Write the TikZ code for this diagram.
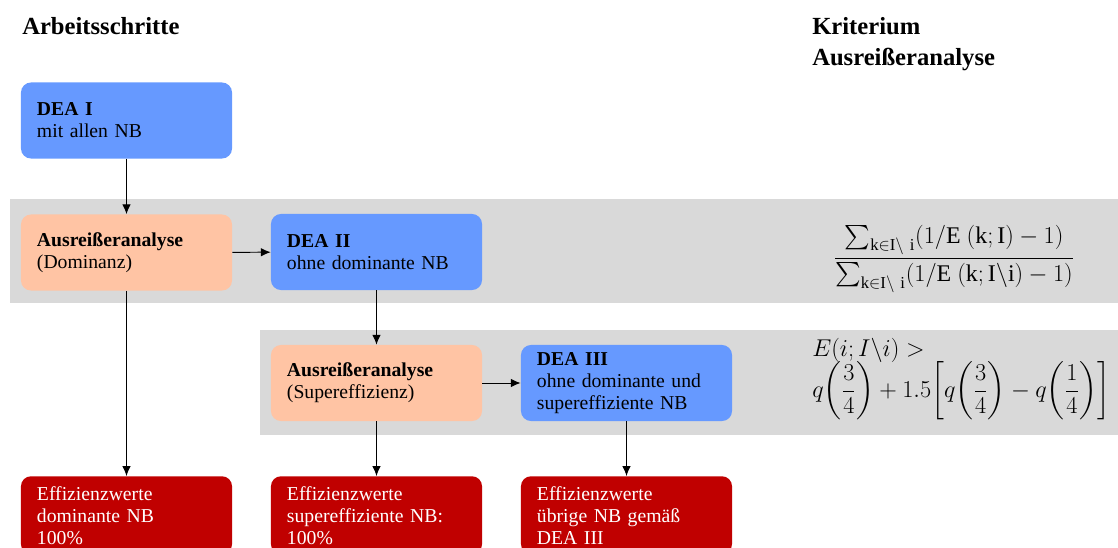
\documentclass[tikz,border=0pt]{standalone}
\usepackage{amsmath}
\usepackage{fontspec}
\setmainfont{Liberation Serif}
\usetikzlibrary{arrows.meta}
\usetikzlibrary{positioning}

\definecolor{deablue}{HTML}{6699FF}
\definecolor{outlpeach}{HTML}{FFC4A4}
\definecolor{effred}{HTML}{C00000}
\definecolor{bandgray}{HTML}{D9D9D9}

\tikzset{
  stepbox/.style={rounded corners=0.25cm, minimum width=5.275cm, minimum height=1.9cm,
    text width=4.475cm, inner xsep=0.4cm, align=left,
    font=\fontsize{14}{15.6}\selectfont},
  deabox/.style={stepbox, fill=deablue},
  outlbox/.style={stepbox, fill=outlpeach},
  effbox/.style={stepbox, fill=effred, text=white, anchor=north, minimum height=0pt, inner ysep=0.25cm},
  heading/.style={font=\fontsize{17.5}{22}\selectfont\bfseries, anchor=base west, inner sep=0},
  crit/.style={font=\fontsize{17}{20}\selectfont, inner sep=0},
  flow/.style={black, line width=0.7pt, -{Latex[length=7pt,width=6pt]}}
}

\begin{document}
\begin{tikzpicture}[x=0.025cm, y=-0.025cm]
\clip (0,0) rectangle (1118,547);
% grey bands
\fill[bandgray] (10,199) rectangle (1118,303);
\fill[bandgray] (260,330) rectangle (1118,435);

\node[heading] (hsteps) at (22,34) {Arbeitsschritte};
\node[heading] (hcrit) at (812,34) {Kriterium};
\node[heading] (hcrit2) at (812,65) {Ausreißeranalyse};

\node[deabox] (dea1) at (126.5,120.5) {\textbf{DEA I}\\mit allen NB};
\node[outlbox] (outl1) at (126.5,252.5) {\textbf{Ausreißeranalyse}\\(Dominanz)};
\node[deabox] (dea2) at (376.5,252) {\textbf{DEA II}\\ohne dominante NB};
\node[outlbox] (outl2) at (376.5,383) {\textbf{Ausreißeranalyse}\\(Supereffizienz)};
\node[deabox] (dea3) at (626.5,383) {\textbf{DEA III}\\ohne dominante und\\supereffiziente NB};

\node[effbox] (eff1) at (126.5,476) {Effizienzwerte\\dominante NB\\100\%};
\node[effbox] (eff2) at (376.5,476) {Effizienzwerte\\supereffiziente NB:\\100\%};
\node[effbox] (eff3) at (626.5,476) {Effizienzwerte\\übrige NB gemäß\\DEA III};

\draw[flow] (dea1) -- (outl1);
\draw[flow] (outl1) -- (dea2);
\draw[flow] (dea2) -- (outl2);
\draw[flow] (outl1) -- (eff1);
\draw[flow] (outl2) -- (dea3);
\draw[flow] (outl2) -- (eff2);
\draw[flow] (dea3) -- (eff3);

% criteria
\node[crit] (crit1) at (954,259)
  {$\dfrac{\textstyle\sum_{\mathrm{k\in I\backslash\ i}}(1/\mathrm{E\ (k;I)}-1)}
          {\textstyle\sum_{\mathrm{k\in I\backslash\ i}}(1/\mathrm{E\ (k;I\backslash i)}-1)}$};
\node[crit, anchor=base west] (crit2) at (812,356) {$E(i;I\backslash i)>$};
\node[crit, anchor=west, font=\fontsize{16.5}{20}\selectfont] (crit3) at (812,391)
  {$\displaystyle q\biggl(\frac{3}{4}\biggr)+1.5\biggl[q\biggl(\frac{3}{4}\biggr)-q\biggl(\frac{1}{4}\biggr)\biggr]$};
\end{tikzpicture}
\end{document}
